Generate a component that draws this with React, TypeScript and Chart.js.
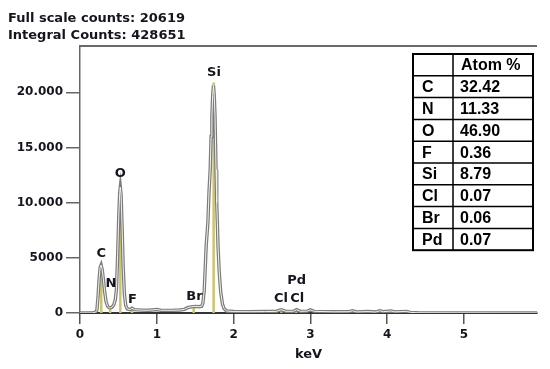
import React, { useEffect, useRef } from 'react';
import { Chart, registerables } from 'chart.js';

Chart.register(...registerables);

// ---- data ----
const energiesKeV = [
  0.0, 0.16, 0.2, 0.22, 0.235, 0.25, 0.263, 0.275, 0.29, 0.305, 0.32, 0.34, 0.36, 0.38, 0.4, 0.42, 0.44,
  0.46, 0.475, 0.49, 0.505, 0.517, 0.525, 0.535, 0.548, 0.562, 0.578, 0.595, 0.615, 0.65, 0.677, 0.71,
  0.8, 0.9, 1.0, 1.05, 1.2, 1.3, 1.36, 1.4, 1.45, 1.5, 1.55, 1.585, 1.6, 1.617, 1.63, 1.643, 1.665, 1.68,
  1.695, 1.707, 1.717, 1.728, 1.738, 1.748, 1.758, 1.771, 1.78, 1.788, 1.797, 1.812, 1.832, 1.855, 1.875,
  1.91, 2.0, 2.2, 2.4, 2.55, 2.62, 2.68, 2.78, 2.82, 2.87, 2.96, 3.0, 3.05, 3.3, 3.5, 3.55, 3.6, 3.75,
  3.85, 3.9, 3.95, 4.05, 4.1, 4.25, 4.3, 4.4, 5.0, 5.95,
];
const spectrumCounts = [
  0, 0, 60, 250, 1500, 3200, 4150, 4350, 3900, 3000, 2000, 1000, 600, 480, 470, 550, 750,
  1200, 2200, 5200, 8800, 10900, 11400, 10700, 7800, 4200, 1700, 700, 380, 300, 430, 300,
  260, 250, 320, 250, 240, 270, 330, 480, 560, 600, 570, 620, 900, 2000, 4000, 6100, 8200, 11000,
  13000, 16000, 17800, 19800, 20619, 19700, 17800, 13000, 10000, 8200, 6100, 3800, 1900, 800, 400,
  180, 130, 120, 130, 140, 300, 150, 160, 300, 150, 170, 280, 150, 110, 120, 200, 100, 130,
  90, 200, 120, 180, 100, 150, 60, 20, 10, 0,
];

const markerEnergies = [0.277, 0.392, 0.525, 0.677, 1.48, 1.74, 2.622, 2.815];
const markerCounts = [4300, 450, 11450, 420, 580, 20900, 330, 330];

const peakLabels = ['C', 'N', 'O', 'F', 'Br', 'Si', 'Cl', 'Cl', 'Pd'];
const peakLabelEnergies = [0.278, 0.404, 0.525, 0.684, 1.49, 1.745, 2.618, 2.829, 2.82];
const peakLabelCounts = [5350, 2620, 12650, 1180, 1450, 21800, 1270, 1270, 2900];

const tableElements = ['C', 'N', 'O', 'F', 'Si', 'Cl', 'Br', 'Pd'];
const tableAtomPercent = ['32.42', '11.33', '46.90', '0.36', '8.79', '0.07', '0.06', '0.07'];
const tableHeader = 'Atom %';

const xTicks = [0, 1, 2, 3, 4, 5];
const xTickLabels = ['0', '1', '2', '3', '4', '5'];
const yTicks = [0, 5000, 10000, 15000, 20000];
const yTickLabels = ['0', '5000', '10.000', '15.000', '20.000'];

const fullScaleCounts = 20619;
const integralCounts = 428651;

const TEXT = '#15151f';
const FONT = '"DejaVu Sans", Verdana, sans-serif';

export default function App() {
  const canvasRef = useRef<HTMLCanvasElement | null>(null);

  useEffect(() => {
    document.body.style.margin = '0';
    const canvas = canvasRef.current;
    if (!canvas) return;

    const spectrum = energiesKeV.map((e, i) => ({ x: e, y: spectrumCounts[i] }));
    const markers: { x: number; y: number | null }[] = [];
    markerEnergies.forEach((e, i) => {
      markers.push({ x: e, y: 0 });
      markers.push({ x: e, y: markerCounts[i] });
      markers.push({ x: e, y: null });
    });

    const topBorder = {
      id: 'topBorder',
      afterDraw(chart: any) {
        const { ctx, chartArea } = chart;
        ctx.save();
        ctx.strokeStyle = '#6a6a6a';
        ctx.lineWidth = 2;
        ctx.beginPath();
        ctx.moveTo(chartArea.left, chartArea.top);
        ctx.lineTo(chartArea.right, chartArea.top);
        ctx.stroke();
        ctx.restore();
      },
    };

    const peakLabelPlugin = {
      id: 'peakLabels',
      afterDatasetsDraw(chart: any) {
        const { ctx, scales } = chart;
        ctx.save();
        ctx.font = `bold 13px ${FONT}`;
        ctx.fillStyle = TEXT;
        ctx.textAlign = 'center';
        ctx.textBaseline = 'middle';
        peakLabels.forEach((t, i) => {
          const x = scales.x.getPixelForValue(peakLabelEnergies[i]);
          const y = scales.y.getPixelForValue(peakLabelCounts[i]);
          ctx.fillText(t, x, y);
        });
        ctx.restore();
      },
    };

    const tablePlugin = {
      id: 'atomTable',
      afterDraw(chart: any) {
        const { ctx, chartArea } = chart;
        const w = 120;
        const col1 = 40;
        const right = chartArea.right - 4;
        const left = right - w;
        const top = chartArea.top + 8;
        const rows = tableElements.length + 1;
        const rowH = 21.8;
        const h = rowH * rows;
        ctx.save();
        ctx.fillStyle = '#ffffff';
        ctx.fillRect(left, top, w, h);
        ctx.strokeStyle = '#000';
        ctx.lineWidth = 1.5;
        for (let r = 1; r < rows; r++) {
          ctx.beginPath();
          ctx.moveTo(left, top + r * rowH);
          ctx.lineTo(right, top + r * rowH);
          ctx.stroke();
        }
        ctx.beginPath();
        ctx.moveTo(left + col1, top);
        ctx.lineTo(left + col1, top + h);
        ctx.stroke();
        ctx.lineWidth = 2;
        ctx.strokeRect(left, top, w, h);
        ctx.font = 'bold 16px "Liberation Sans", Arial, sans-serif';
        ctx.fillStyle = '#000';
        ctx.textBaseline = 'middle';
        ctx.textAlign = 'left';
        ctx.fillText(tableHeader, left + col1 + 8, top + rowH / 2 + 1);
        tableElements.forEach((el, i) => {
          const cy = top + (i + 1.5) * rowH + 1;
          ctx.fillText(el, left + 9, cy);
          ctx.fillText(tableAtomPercent[i], left + col1 + 7, cy);
        });
        ctx.restore();
      },
    };

    const tickFont = { family: FONT, size: 12, weight: 'bold' as const };

    const chart = new Chart(canvas, {
      type: 'line',
      data: {
        datasets: [
          {
            data: spectrum,
            borderColor: '#f2f2ee',
            borderWidth: 1,
            pointRadius: 0,
            tension: 0,
            fill: false,
          },
          {
            data: spectrum,
            borderColor: '#7c7c7c',
            borderWidth: 3.4,
            pointRadius: 0,
            tension: 0,
            fill: false,
          },
          {
            data: markers as any,
            borderColor: '#cdc56b',
            borderWidth: 2.5,
            pointRadius: 0,
            spanGaps: false,
            fill: false,
          },
        ],
      },
      options: {
        responsive: false,
        animation: false,
        events: [],
        layout: { padding: { left: 0, right: 13, top: 46, bottom: 6 } },
        plugins: {
          legend: { display: false },
          tooltip: { enabled: false },
          title: { display: false },
        },
        scales: {
          x: {
            type: 'linear',
            min: 0,
            max: 5.95,
            afterBuildTicks: (s: any) => {
              s.ticks = xTicks.map((v) => ({ value: v }));
            },
            afterFit: (s: any) => {
              s.height = 50;
            },
            ticks: {
              autoSkip: false,
              maxRotation: 0,
              padding: 4,
              color: TEXT,
              font: tickFont,
              callback: (v: any) => {
                const i = xTicks.indexOf(Number(v));
                return i >= 0 ? xTickLabels[i] : '';
              },
            },
            grid: {
              display: true,
              drawOnChartArea: false,
              drawTicks: true,
              tickLength: 11,
              color: '#555',
              lineWidth: 1.5,
            },
            border: { display: true, color: '#333', width: 2 },
            title: {
              display: true,
              text: 'keV',
              color: TEXT,
              font: { family: FONT, size: 13, weight: 'bold' },
              padding: { top: 0, bottom: 1 },
            },
          },
          y: {
            type: 'linear',
            min: 0,
            max: 24200,
            afterBuildTicks: (s: any) => {
              s.ticks = yTicks.map((v) => ({ value: v }));
            },
            afterFit: (s: any) => {
              s.width = 80;
            },
            ticks: {
              padding: 3,
              color: TEXT,
              font: tickFont,
              callback: (v: any) => {
                const i = yTicks.indexOf(Number(v));
                return i >= 0 ? yTickLabels[i] : '';
              },
            },
            grid: {
              display: true,
              drawOnChartArea: false,
              drawTicks: true,
              tickLength: 14,
              color: '#666',
              lineWidth: 1.5,
            },
            border: { display: true, color: '#666', width: 1.5 },
          },
        },
      },
      plugins: [topBorder, peakLabelPlugin, tablePlugin],
    });

    return () => chart.destroy();
  }, []);

  const headerStyle: React.CSSProperties = {
    position: 'absolute',
    left: 8,
    fontFamily: FONT,
    fontWeight: 'bold',
    fontSize: 13,
    lineHeight: '16.6px',
    color: TEXT,
    whiteSpace: 'nowrap',
  };

  return (
    <div style={{ position: 'relative', width: 550, height: 369, background: '#fff' }}>
      <canvas ref={canvasRef} width={550} height={369} style={{ display: 'block' }} />
      <div style={{ ...headerStyle, top: 10 }}>Full scale counts: {fullScaleCounts}</div>
      <div style={{ ...headerStyle, top: 26.6 }}>Integral Counts: {integralCounts}</div>
    </div>
  );
}
